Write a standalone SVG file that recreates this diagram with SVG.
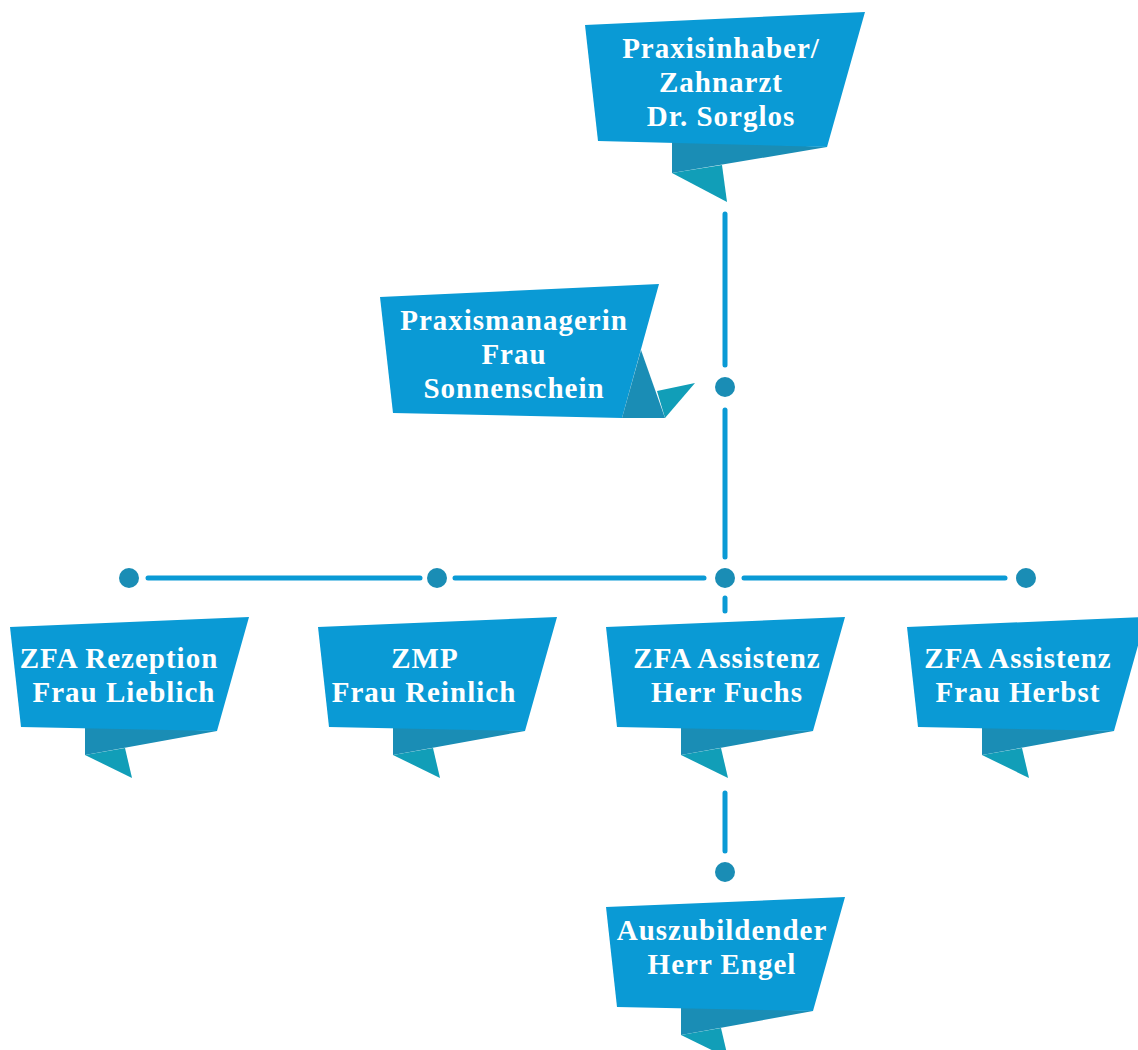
<svg xmlns="http://www.w3.org/2000/svg" width="1138" height="1050" viewBox="0 0 1138 1050">
<style>
.b{fill:#0A9AD5}
.d{fill:#1A8DB5}
.l{fill:#119EB8}
.t{font-family:"Liberation Serif",serif;font-weight:bold;font-size:29px;letter-spacing:1px;fill:#fff;text-anchor:middle}
.c{stroke:#0A9AD5;stroke-width:5;stroke-linecap:round;fill:none}
.dot{fill:#1A8DB5}
</style>
<rect width="1138" height="1050" fill="#fff"/>
<g id="connectors">
<line class="c" x1="725" y1="214" x2="725" y2="365"/>
<line class="c" x1="725" y1="410" x2="725" y2="557"/>
<line class="c" x1="725" y1="598" x2="725" y2="611"/>
<line class="c" x1="725" y1="793" x2="725" y2="851"/>
<line class="c" x1="148" y1="578" x2="420" y2="578"/>
<line class="c" x1="455" y1="578" x2="704" y2="578"/>
<line class="c" x1="744" y1="578" x2="1005" y2="578"/>
<circle class="dot" cx="725" cy="387" r="10"/>
<circle class="dot" cx="725" cy="578" r="10"/>
<circle class="dot" cx="129" cy="578" r="10"/>
<circle class="dot" cx="437" cy="578" r="10"/>
<circle class="dot" cx="1026" cy="578" r="10"/>
<circle class="dot" cx="725" cy="872" r="10"/>
</g>
<g id="n-inhaber">
<polygon class="d" points="672,140 827,147 672,173"/>
<polygon class="l" points="672,173 722,165 727,202"/>
<polygon class="b" points="585,25 865,12 827,147 598,141"/>
<text class="t" x="721" y="58">Praxisinhaber/</text>
<text class="t" x="721" y="92">Zahnarzt</text>
<text class="t" x="721" y="126">Dr. Sorglos</text>
</g>
<g id="n-manager">
<polygon class="b" points="380,297 659,284 622,418 393,413"/>
<polygon class="d" points="641,350 665,418 622,418"/>
<polygon class="l" points="657,391 695,383 665,418"/>
<text class="t" x="514" y="330">Praxismanagerin</text>
<text class="t" x="514" y="364">Frau</text>
<text class="t" x="514" y="398">Sonnenschein</text>
</g>
<g id="n-rezeption" transform="translate(10,617)">
<polygon class="d" points="75,108 207,114 75,138"/>
<polygon class="l" points="75,138 115,131 122,161"/>
<polygon class="b" points="0,10 239,0 207,114 11,110"/>
<text class="t" x="109" y="51">ZFA Rezeption</text>
<text class="t" x="114" y="85">Frau Lieblich</text>
</g>
<g id="n-zmp" transform="translate(318,617)">
<polygon class="d" points="75,108 207,114 75,138"/>
<polygon class="l" points="75,138 115,131 122,161"/>
<polygon class="b" points="0,10 239,0 207,114 11,110"/>
<text class="t" x="107" y="51">ZMP</text>
<text class="t" x="106" y="85">Frau Reinlich</text>
</g>
<g id="n-fuchs" transform="translate(606,617)">
<polygon class="d" points="75,108 207,114 75,138"/>
<polygon class="l" points="75,138 115,131 122,161"/>
<polygon class="b" points="0,10 239,0 207,114 11,110"/>
<text class="t" x="121" y="51">ZFA Assistenz</text>
<text class="t" x="121" y="85">Herr Fuchs</text>
</g>
<g id="n-herbst" transform="translate(907,617)">
<polygon class="d" points="75,108 207,114 75,138"/>
<polygon class="l" points="75,138 115,131 122,161"/>
<polygon class="b" points="0,10 239,0 207,114 11,110"/>
<text class="t" x="111" y="51">ZFA Assistenz</text>
<text class="t" x="111" y="85">Frau Herbst</text>
</g>
<g id="n-azubi" transform="translate(606,897)">
<polygon class="d" points="75,108 207,114 75,138"/>
<polygon class="l" points="75,138 115,131 122,161"/>
<polygon class="b" points="0,10 239,0 207,114 11,110"/>
<text class="t" x="116" y="43">Auszubildender</text>
<text class="t" x="116" y="77">Herr Engel</text>
</g>
</svg>
